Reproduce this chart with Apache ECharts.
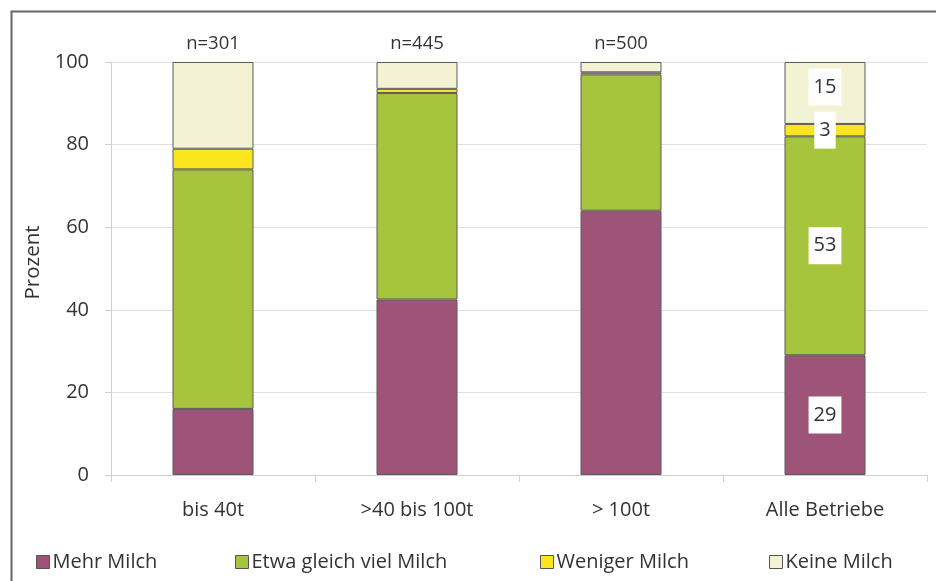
<!DOCTYPE html>
<html><head><meta charset="utf-8">
<script src="https://cdn.jsdelivr.net/npm/echarts@6/dist/echarts.min.js"></script>
<style>html,body{margin:0;padding:0;background:#fff}#c{width:936px;height:581px}</style>
</head><body><div id="c"></div>
<script>
const categories = ['bis 40t', '>40 bis 100t', '> 100t', 'Alle Betriebe'];
const nLabels = ['n=301', 'n=445', 'n=500', ''];
const seriesNames = ['Mehr Milch', 'Etwa gleich viel Milch', 'Weniger Milch', 'Keine Milch'];
const mehr = [16, 42.5, 64, 29];
const etwa = [58, 50, 33, 53];
const weniger = [5, 1, 0.5, 3];
const keine = [21, 6.5, 2.5, 15];
const yTicks = [0, 20, 40, 60, 80, 100];
const colors = ['#9e5379', '#a6c43c', '#fbe51f', '#f3f2d4'];
const labelledIndex = 3;

const font = 'Open Sans';
const values = [mehr, etwa, weniger, keine];
const series = values.map((arr, si) => ({
  name: seriesNames[si],
  type: 'bar',
  stack: 'total',
  barWidth: 81,
  itemStyle: { color: colors[si], borderColor: '#5a5a5a', borderWidth: 1 },
  data: arr.map((v, i) => ({
    value: v,
    label: {
      show: i === labelledIndex,
      position: 'inside',
      formatter: '{c}',
      backgroundColor: '#fff',
      color: '#333',
      fontFamily: font,
      fontSize: 20,
      lineHeight: 20,
      offset: si === 3 ? [0, -6] : [0, 0],
      padding: [9, 5, 8, 5]
    }
  }))
}));

const legendLefts = [31, 230, 535, 764];
const legends = seriesNames.map((n, i) => ({
  data: [n],
  left: legendLefts[i],
  top: 547,
  itemWidth: 13,
  itemHeight: 13,
  icon: 'rect',
  itemGap: 5,
  textStyle: { fontFamily: font, fontSize: 20, color: '#333', padding: [0, 0, 0, -2] },
  itemStyle: { borderColor: '#555', borderWidth: 1 },
  selectedMode: false
}));

const chart = echarts.init(document.getElementById('c'));
chart.setOption({
  animation: false,
  backgroundColor: '#fff',
  color: colors,
  grid: { left: 111, right: 9, top: 62, bottom: 106 },
  legend: legends,
  graphic: [{
    type: 'rect', left: 9, top: 9, silent: true,
    shape: { width: 1000, height: 1000 },
    style: { fill: 'none', stroke: '#666', lineWidth: 2 }
  }],
  xAxis: [{
    type: 'category', data: categories,
    axisLine: { lineStyle: { color: '#d0d0d0' } },
    axisTick: { show: true, length: 7, alignWithLabel: false, lineStyle: { color: '#d0d0d0' } },
    axisLabel: { color: '#333', fontFamily: font, fontSize: 20, margin: 25 }
  }, {
    type: 'category', data: nLabels, position: 'top',
    axisLine: { show: false }, axisTick: { show: false },
    axisLabel: { color: '#333', fontFamily: font, fontSize: 18.5, margin: 9 }
  }],
  yAxis: {
    type: 'value', min: yTicks[0], max: yTicks[yTicks.length - 1], interval: 20,
    name: 'Prozent', nameLocation: 'middle', nameGap: 65, nameRotate: 90,
    nameTextStyle: { color: '#333', fontFamily: font, fontSize: 20.5, padding: [0, 0, 0, 12] },
    axisLine: { show: true, lineStyle: { color: '#d0d0d0' } },
    axisTick: { show: true, length: 6, lineStyle: { color: '#d0d0d0' } },
    axisLabel: { color: '#333', fontFamily: font, fontSize: 20, margin: 22 },
    splitLine: { lineStyle: { color: '#e0e0e0' } }
  },
  series: series
});
</script></body></html>
